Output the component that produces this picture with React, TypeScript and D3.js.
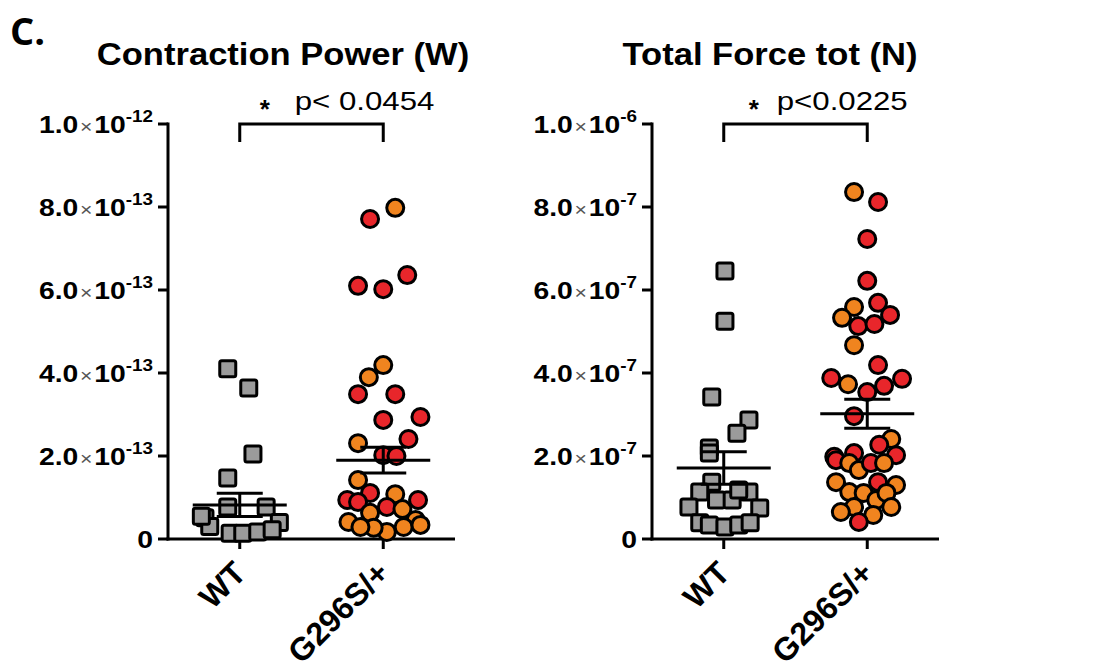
import React from "react";
import * as d3 from "d3";

const FONT = "'Liberation Sans', Arial, Helvetica, sans-serif";
const RED = "#e8262b";
const ORANGE = "#f0841f";
const GRAY = "#9b9b9b";

const categories = ["WT", "G296S/+"];

// ---- Contraction Power (W) ----
const powerWT = [4.1e-13, 3.64e-13, 2.05e-13, 1.47e-13, 0.77e-13, 0.77e-13, 0.51e-13, 0.3e-13, 0.4e-13, 0.14e-13, 0.14e-13, 0.17e-13, 0.22e-13, 0.55e-13];
const powerWTJitter = [-1, 0.75, 1.1, -1, -1, 2.2, -2.9, -2.5, 3.3, -0.8, 0.25, 1.5, 2.7, -3.2];
const powerMut = [7.98e-13, 7.71e-13, 6.1e-13, 6.02e-13, 6.36e-13, 4.19e-13, 3.9e-13, 3.49e-13, 3.49e-13, 2.87e-13, 2.94e-13, 2.31e-13, 2.41e-13, 2.02e-13, 2.0e-13, 1.42e-13, 1.11e-13, 1.08e-13, 0.94e-13, 0.89e-13, 0.94e-13, 0.77e-13, 0.72e-13, 0.63e-13, 0.41e-13, 0.46e-13, 0.29e-13, 0.17e-13, 0.27e-13, 0.29e-13, 0.34e-13];
const powerMutColor = ["o", "r", "r", "r", "r", "o", "o", "r", "r", "r", "r", "o", "r", "r", "r", "o", "r", "o", "r", "r", "r", "r", "o", "o", "o", "o", "o", "o", "o", "o", "o"];
const powerMutJitter = [1, -1.1, -2.1, 0, 2, 0, -1.2, -2.1, 1, 0, 3.1, -2.1, 2.1, 0, 1.1, -2.1, -1.1, 1, -3, -2.1, 2.9, 0.3, 1.6, -1.1, -2.9, 2.7, 1.7, 0.3, -0.8, -1.9, 3.1];
const powerMean = [0.82e-13, 1.9e-13];
const powerSem = [0.28e-13, 0.31e-13];
const powerTicks = [0, 2e-13, 4e-13, 6e-13, 8e-13, 1e-12];
const powerTickMantissa = ["0", "2.0", "4.0", "6.0", "8.0", "1.0"];
const powerTickExponent = ["", "-13", "-13", "-13", "-13", "-12"];

// ---- Total Force tot (N) ----
const forceWT = [6.46e-7, 5.25e-7, 3.42e-7, 2.87e-7, 2.55e-7, 2.19e-7, 2.07e-7, 1.37e-7, 1.13e-7, 0.94e-7, 0.94e-7, 1.13e-7, 1.18e-7, 0.77e-7, 0.75e-7, 0.39e-7, 0.34e-7, 0.29e-7, 0.34e-7, 0.39e-7];
const forceWTJitter = [0.1, 0.1, -1, 2.1, 1.1, -1.2, -1.2, -1, -2, -0.6, 0.7, 2.1, 1.25, -2.9, 3, -2, -1.2, 0.1, 1.25, 2.2];
const forceMut = [8.36e-7, 8.12e-7, 7.23e-7, 6.22e-7, 5.69e-7, 5.59e-7, 5.33e-7, 5.13e-7, 5.18e-7, 5.4e-7, 4.67e-7, 4.19e-7, 3.88e-7, 3.73e-7, 3.54e-7, 3.69e-7, 3.86e-7, 2.96e-7, 2.41e-7, 2.27e-7, 2.02e-7, 1.98e-7, 2.07e-7, 1.9e-7, 1.83e-7, 1.66e-7, 1.83e-7, 1.83e-7, 1.37e-7, 1.37e-7, 1.3e-7, 1.13e-7, 1.11e-7, 0.94e-7, 1.11e-7, 0.77e-7, 0.77e-7, 0.65e-7, 0.58e-7, 0.41e-7];
const forceMutColor = ["o", "r", "r", "r", "r", "o", "o", "r", "r", "r", "o", "r", "r", "o", "r", "r", "r", "r", "o", "r", "r", "r", "r", "r", "o", "o", "r", "o", "o", "r", "o", "o", "o", "o", "o", "o", "o", "o", "o", "r"];
const forceMutJitter = [-1.1, 0.9, 0, 0, 0.9, -1.1, -2.1, -0.75, 0.6, 1.9, -1.1, 0.9, -3, -1.6, 0, 1.4, 2.9, -1.1, 2, 1, 2.4, -2.75, -1.1, -2.6, -1.5, -0.7, 0.3, 1.4, -2.6, 0.9, 2.4, -1.5, -0.3, 0.75, 1.6, -1.1, 2, -2.2, 0.5, -0.7];
const forceMean = [1.71e-7, 3.02e-7];
const forceSem = [0.39e-7, 0.35e-7];
const forceTicks = [0, 2e-7, 4e-7, 6e-7, 8e-7, 1e-6];
const forceTickMantissa = ["0", "2.0", "4.0", "6.0", "8.0", "1.0"];
const forceTickExponent = ["", "-7", "-7", "-7", "-7", "-6"];

const W = 1104;
const H = 672;
const AXIS_TOP = 124;
const AXIS_BOTTOM = 539;
const INNER_W = 287;

type PanelProps = {
  left: number;
  title: string;
  titleX: number;
  pText: string;
  starDx: number;
  pDx: number;
  yMax: number;
  ticks: number[];
  mantissa: string[];
  exponent: string[];
  wt: number[];
  wtJitter: number[];
  mut: number[];
  mutColor: string[];
  mutJitter: number[];
  mean: number[];
  sem: number[];
};

function Panel(p: PanelProps) {
  const y = d3.scaleLinear().domain([0, p.yMax]).range([AXIS_BOTTOM, AXIS_TOP]);
  const x = d3.scalePoint<string>().domain(categories).range([0, INNER_W]).padding(0.5);
  const jit = d3.scaleLinear().domain([-1, 1]).range([-12, 12]);
  const xWT = x(categories[0]) as number;
  const xMut = x(categories[1]) as number;
  const sq = 16;
  return (
    <g transform={`translate(${p.left},0)`}>
      <g transform={`translate(${p.titleX},65) scale(1.08,1)`}>
        <text x={0} y={0} textAnchor="middle" fontFamily={FONT} fontWeight="bold" fontSize={32}>
          {p.title}
        </text>
      </g>
      {/* significance bracket */}
      <path d={`M${xWT},${142} V${AXIS_TOP} H${xMut} V${142}`} fill="none" stroke="#000" strokeWidth={3} />
      <text x={xWT + p.starDx} y={118} fontFamily={FONT} fontWeight="bold" fontSize={26} textAnchor="middle">*</text>
      <g transform={`translate(${xWT + p.pDx},110) scale(1.2,1)`}>
        <text x={0} y={0} fontFamily={FONT} fontSize={26}>{p.pText}</text>
      </g>

      {/* y axis */}
      <line x1={0} x2={0} y1={AXIS_TOP - 1.5} y2={AXIS_BOTTOM + 1.5} stroke="#000" strokeWidth={3} />
      {p.ticks.map((t, i) => (
        <g key={i}>
          <line x1={-10} x2={0} y1={y(t)} y2={y(t)} stroke="#000" strokeWidth={3} />
          <g transform={`translate(-15,${y(t) + 8.5}) scale(1.18,1)`}>
            <text x={0} y={0} textAnchor="end" fontFamily={FONT} fontWeight="bold" fontSize={24}>
              {p.mantissa[i]}
              {p.exponent[i] ? (
                <>
                  <tspan dx={1.5} fontWeight="normal" fontSize={18} fill="#555">×</tspan>
                  <tspan dx={1.5}>10</tspan>
                  <tspan dy={-11} fontSize={16}>{p.exponent[i]}</tspan>
                </>
              ) : null}
            </text>
          </g>
        </g>
      ))}
      {/* x axis */}
      <line x1={-1.5} x2={INNER_W} y1={AXIS_BOTTOM} y2={AXIS_BOTTOM} stroke="#000" strokeWidth={3} />
      {categories.map((c) => (
        <g key={c}>
          <line x1={x(c)} x2={x(c)} y1={AXIS_BOTTOM} y2={AXIS_BOTTOM + 10} stroke="#000" strokeWidth={3} />
          <text
            transform={`translate(${(x(c) as number) + 8},${AXIS_BOTTOM + 36}) rotate(-45)`}
            textAnchor="end"
            fontFamily={FONT}
            fontWeight="bold"
            fontSize={32}
          >
            {c}
          </text>
        </g>
      ))}

      {/* WT squares */}
      {p.wt.map((v, i) => (
        <rect
          key={"w" + i}
          x={xWT + jit(p.wtJitter[i]) - sq / 2}
          y={y(v) - sq / 2}
          width={sq}
          height={sq}
          rx={2}
          fill={GRAY}
          stroke="#000"
          strokeWidth={3}
        />
      ))}
      {/* mutant circles */}
      {p.mut.map((v, i) => (
        <circle
          key={"m" + i}
          cx={xMut + jit(p.mutJitter[i])}
          cy={y(v)}
          r={8.5}
          fill={p.mutColor[i] === "r" ? RED : ORANGE}
          stroke="#000"
          strokeWidth={3}
        />
      ))}

      {/* mean ± SEM */}
      {[xWT, xMut].map((cx, i) => (
        <g key={"s" + i} stroke="#000" strokeWidth={3}>
          <line x1={cx - 47} x2={cx + 47} y1={y(p.mean[i])} y2={y(p.mean[i])} />
          <line x1={cx} x2={cx} y1={y(p.mean[i] - p.sem[i])} y2={y(p.mean[i] + p.sem[i])} />
          <line x1={cx - 23} x2={cx + 23} y1={y(p.mean[i] + p.sem[i])} y2={y(p.mean[i] + p.sem[i])} />
          <line x1={cx - 23} x2={cx + 23} y1={y(p.mean[i] - p.sem[i])} y2={y(p.mean[i] - p.sem[i])} />
        </g>
      ))}
    </g>
  );
}

export default function App() {
  return (
    <svg width={W} height={H} style={{ position: "absolute", left: 0, top: 0, background: "#fff" }}>
      <rect width={W} height={H} fill="#fff" />
      <text x={10} y={45} fontFamily="'Open Sans', sans-serif" fontWeight="bold" fontSize={38}>C.</text>
      <Panel
        left={168}
        title="Contraction Power (W)"
        titleX={115}
        pText="p< 0.0454"
        starDx={25}
        pDx={55}
        yMax={1e-12}
        ticks={powerTicks}
        mantissa={powerTickMantissa}
        exponent={powerTickExponent}
        wt={powerWT}
        wtJitter={powerWTJitter}
        mut={powerMut}
        mutColor={powerMutColor}
        mutJitter={powerMutJitter}
        mean={powerMean}
        sem={powerSem}
      />
      <Panel
        left={652}
        title="Total Force tot (N)"
        titleX={118}
        pText="p<0.0225"
        starDx={30}
        pDx={53}
        yMax={1e-6}
        ticks={forceTicks}
        mantissa={forceTickMantissa}
        exponent={forceTickExponent}
        wt={forceWT}
        wtJitter={forceWTJitter}
        mut={forceMut}
        mutColor={forceMutColor}
        mutJitter={forceMutJitter}
        mean={forceMean}
        sem={forceSem}
      />
    </svg>
  );
}
